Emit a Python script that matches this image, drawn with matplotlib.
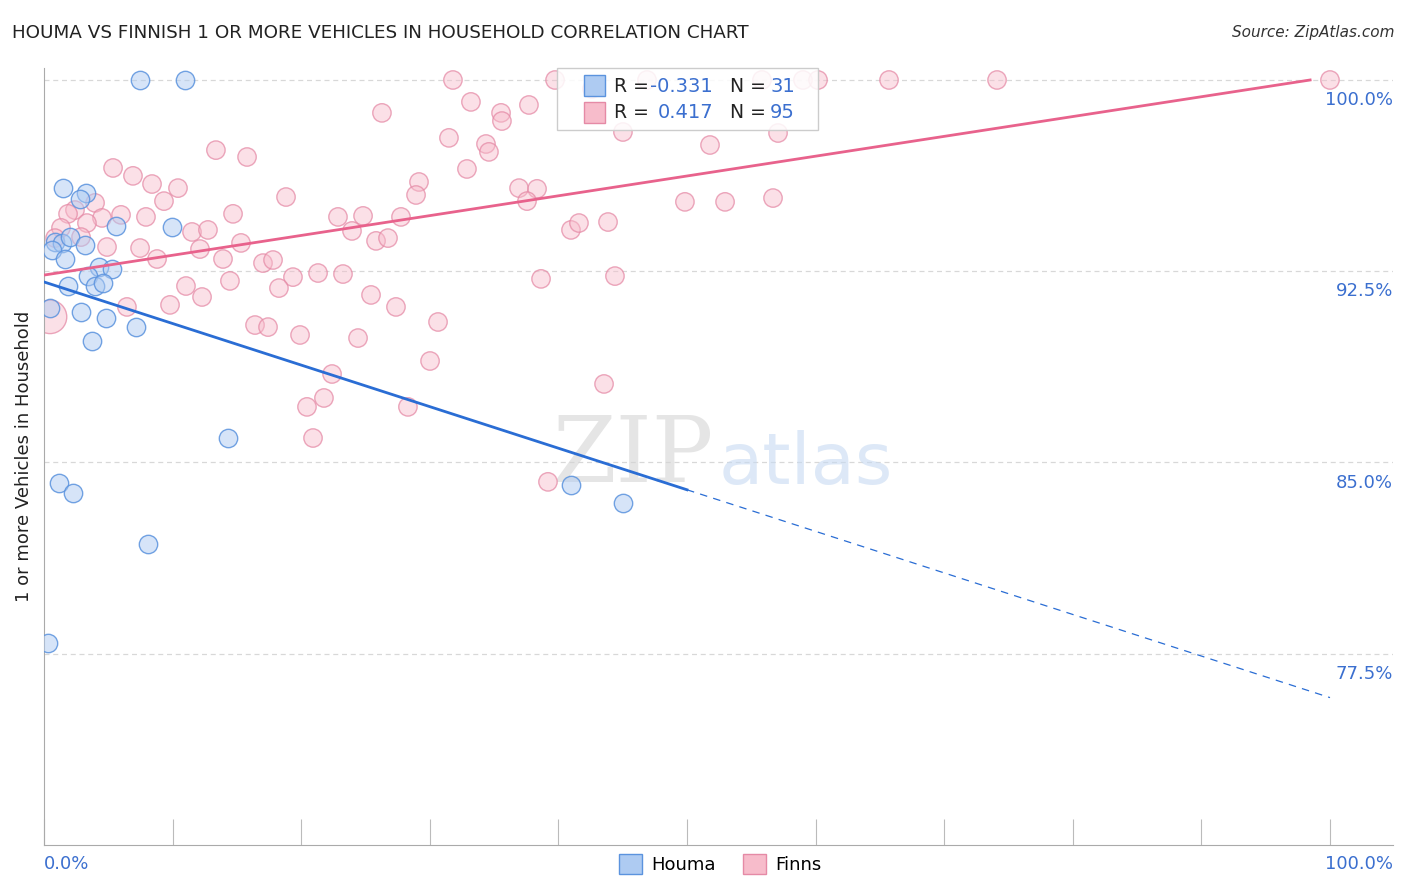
import numpy as np
import matplotlib.pyplot as plt
from matplotlib.colors import to_rgba
from matplotlib.patches import Patch, Rectangle

# ---------------------------------------------------------------------------
# Data, x and y in percent
# ---------------------------------------------------------------------------
HOUMA_X = [7.47, 10.96, 1.48, 3.27, 2.80, 5.60, 9.95, 0.86, 1.40, 0.62,
           2.02, 3.19, 1.63, 4.28, 5.29, 3.42, 3.97, 4.59, 1.87, 0.47,
           2.88, 4.82, 7.15, 3.73, 1.17, 2.26, 8.09, 0.31, 14.31, 40.98,
           45.02]
HOUMA_Y = [100.0, 100.0, 95.76, 95.57, 95.33, 94.27, 94.24, 93.65, 93.61, 93.33,
           93.84, 93.53, 92.98, 92.67, 92.59, 92.31, 91.92, 92.04, 91.92, 91.06,
           90.90, 90.67, 90.31, 89.76, 84.20, 83.80, 81.80, 77.92, 85.96, 84.12,
           83.41]

FINNS_X = [13.37, 15.79, 18.82, 5.37, 6.92, 8.40, 10.42, 9.33, 3.97, 2.41,
           1.87, 4.51, 5.99, 7.93, 3.34, 1.32, 14.70, 11.51, 12.75, 2.88,
           0.86, 4.90, 7.47, 8.79, 12.13, 13.92, 15.32, 17.03, 17.81, 19.36,
           21.31, 14.46, 11.04, 18.27, 12.29, 9.80, 6.45, 0.47, 16.41, 17.42,
           19.91, 31.80, 39.74, 46.89, 33.20, 26.28, 35.54, 35.61, 37.71, 45.02,
           31.49, 34.37, 34.60, 32.89, 29.16, 28.93, 36.94, 38.34, 37.56, 49.84,
           22.86, 24.81, 23.95, 27.76, 25.82, 26.75, 40.98, 41.60, 43.86, 23.25,
           38.65, 44.40, 25.43, 27.37, 24.42, 30.64, 30.02, 43.55, 22.40, 21.77,
           20.45, 28.30, 20.92, 55.83, 59.02, 60.19, 42.61, 51.79, 57.08, 52.96,
           56.69, 65.71, 74.11, 100.0, 39.19]
FINNS_Y = [97.25, 96.98, 95.41, 96.55, 96.24, 95.92, 95.76, 95.25, 95.18, 94.90,
           94.75, 94.59, 94.71, 94.63, 94.39, 94.20, 94.75, 94.04, 94.12, 93.84,
           93.80, 93.45, 93.41, 92.98, 93.37, 92.98, 93.61, 92.82, 92.94, 92.27,
           92.43, 92.12, 91.92, 91.84, 91.49, 91.18, 91.10, 90.71, 90.39, 90.31,
           90.00, 100.0, 100.0, 100.0, 99.14, 98.71, 98.71, 98.39, 99.02, 97.96,
           97.73, 97.49, 97.18, 96.51, 96.00, 95.49, 95.76, 95.73, 95.25, 95.22,
           94.63, 94.67, 94.08, 94.63, 93.69, 93.80, 94.12, 94.39, 94.43, 92.39,
           92.20, 92.31, 91.57, 91.10, 89.88, 90.51, 88.98, 88.08, 88.47, 87.53,
           87.18, 87.18, 85.96, 100.0, 100.0, 100.0, 99.65, 97.45, 97.92, 95.22,
           95.37, 100.0, 100.0, 100.0, 84.24]
# one Finns point is drawn much larger than the others
FINNS_BIG = 37

# Trend lines (intercept, slope)
HOUMA_TREND = (92.08, -0.163)
FINNS_TREND = (92.35, 0.0777)

STATS = [("-0.331", "31"), ("0.417", "95")]
Y_TICKS = [100.0, 92.5, 85.0, 77.5]

BLUE_FILL = "#aecbf2"
BLUE_EDGE = "#5b93de"
BLUE_LINE = "#2a6dd4"
PINK_FILL = "#f7bccb"
PINK_EDGE = "#e58aa6"
PINK_LINE = "#e8628c"
TICK_BLUE = "#3b6fcf"
W, H = 1406, 892


def fx(px):
    return px / W


def fy(py):
    return 1 - py / H


fig = plt.figure(figsize=(14.06, 8.92), dpi=100)
ax = fig.add_axes([fx(44), fy(845), fx(1393) - fx(44), fy(68) - fy(845)])
ax.set_xlim(0, 104.9)
ax.set_ylim(70.0, 100.47)

# grid lines
for v in Y_TICKS:
    ax.axhline(v, color="#d8d8d8", linestyle=(0, (4, 3)), linewidth=0.9, zorder=0)

# scatter
sizes = np.full(len(FINNS_X), 175.0)
sizes[FINNS_BIG] = 580.0
ax.scatter(FINNS_X, FINNS_Y, s=sizes, facecolor=to_rgba(PINK_FILL, 0.45),
           edgecolor=to_rgba(PINK_EDGE, 0.75), linewidth=1.0, zorder=2)
ax.scatter(HOUMA_X, HOUMA_Y, s=175, facecolor=to_rgba(BLUE_FILL, 0.5),
           edgecolor=to_rgba(BLUE_EDGE, 0.85), linewidth=1.0, zorder=3)

# trend lines
b0, b1 = HOUMA_TREND
xs = np.array([0, 50])
ax.plot(xs, b0 + b1 * xs, color=BLUE_LINE, linewidth=2.0, zorder=4)
xd = np.array([50, 100])
ax.plot(xd, b0 + b1 * xd, color=BLUE_LINE, linewidth=0.9, linestyle=(0, (6, 5)), zorder=4)

p0, p1 = FINNS_TREND
xp = np.array([0, (100 - p0) / p1])
ax.plot(xp, p0 + p1 * xp, color=PINK_LINE, linewidth=2.0, zorder=4)

# spines / ticks
for s in ["top", "right"]:
    ax.spines[s].set_visible(False)
ax.spines["left"].set_color("#aaaaaa")
ax.spines["bottom"].set_color("#aaaaaa")
ax.set_xticks(np.arange(0, 101, 10))
ax.tick_params(axis="x", direction="in", length=19, color="#bbbbbb", labelbottom=False)
ax.set_yticks([])

# y tick labels inside on the right, just below grid lines
for v in Y_TICKS:
    ax.annotate(f"{v:.1f}%", xy=(1.0, v), xycoords=("axes fraction", "data"),
                xytext=(0, -8), textcoords="offset points", ha="right", va="top",
                fontsize=13, color=TICK_BLUE)

fig.text(fx(44), fy(864), "0.0%", ha="left", va="center", fontsize=13, color=TICK_BLUE)
fig.text(fx(1393), fy(864), "100.0%", ha="right", va="center", fontsize=13, color=TICK_BLUE)

ax.set_ylabel("1 or more Vehicles in Household", fontsize=13, color="#222222", labelpad=8)

# watermark
ax.text(0.497, 0.50, "ZIP", transform=ax.transAxes, ha="right", va="center",
        fontsize=66, family="DejaVu Serif", color="#d4d4d4", alpha=0.6, zorder=1)
ax.text(0.500, 0.49, "atlas", transform=ax.transAxes, ha="left", va="center",
        fontsize=52, color="#c7daf2", alpha=0.6, zorder=1)

# title and source
fig.text(fx(12), fy(33), "HOUMA VS FINNISH 1 OR MORE VEHICLES IN HOUSEHOLD CORRELATION CHART",
         ha="left", va="center", fontsize=13.2, color="#222222")
fig.text(fx(1394), fy(33), "Source: ZipAtlas.com", ha="right", va="center",
         fontsize=11, style="italic", color="#333333")

# stats box (drawn by hand)
fig.patches.append(Rectangle((fx(557), fy(130)), fx(818) - fx(557), fy(68) - fy(130),
                             transform=fig.transFigure, facecolor=(1, 1, 1, 0.85),
                             edgecolor="#cccccc", linewidth=1.0, zorder=6))
for i, (r, n) in enumerate(STATS):
    yy = 86 + 27 * i
    fill, edge = (BLUE_FILL, BLUE_EDGE) if i == 0 else (PINK_FILL, PINK_EDGE)
    fig.patches.append(Rectangle((fx(584), fy(yy + 10)), fx(21), fy(0) - fy(21),
                                 transform=fig.transFigure, facecolor=fill,
                                 edgecolor=edge, linewidth=1.0, zorder=7))
    fig.text(fx(614), fy(yy), "R =", ha="left", va="center", fontsize=13.5, color="#222222", zorder=8)
    fig.text(fx(713), fy(yy), r, ha="right", va="center", fontsize=14, color=TICK_BLUE, zorder=8)
    fig.text(fx(730), fy(yy), "N =", ha="left", va="center", fontsize=13.5, color="#222222", zorder=8)
    fig.text(fx(795), fy(yy), n, ha="right", va="center", fontsize=14, color=TICK_BLUE, zorder=8)

# bottom legend
fig.legend(
    handles=[Patch(facecolor=BLUE_FILL, edgecolor=BLUE_EDGE),
             Patch(facecolor=PINK_FILL, edgecolor=PINK_EDGE)],
    labels=["Houma", "Finns"], loc="center", bbox_to_anchor=(fx(720), fy(864)),
    ncol=2, frameon=False, fontsize=13, handlelength=1.3, handleheight=1.3,
    columnspacing=1.5, handletextpad=0.5)

fig.savefig("out.png", dpi=100)
